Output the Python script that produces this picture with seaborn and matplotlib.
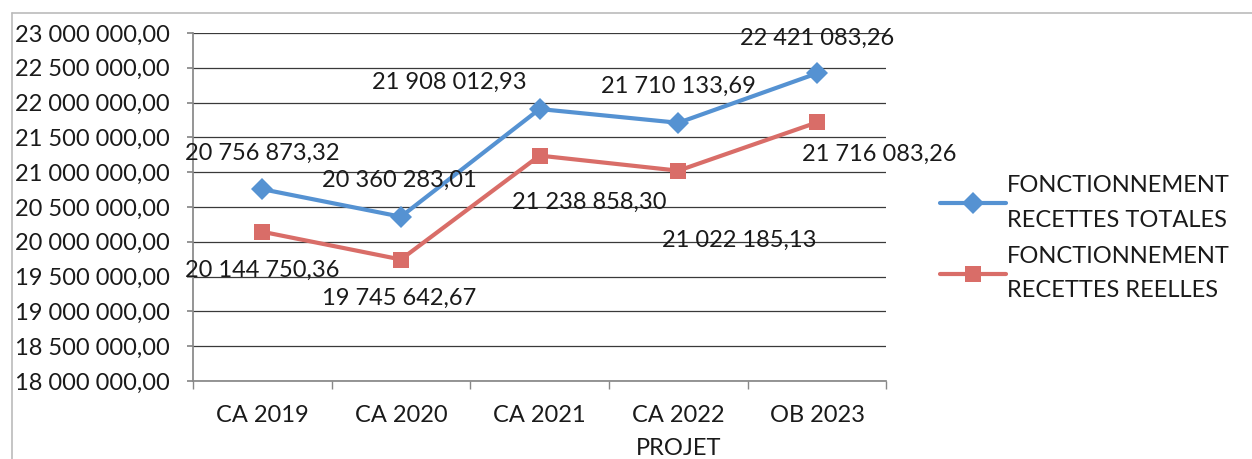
import pandas as pd
import seaborn as sns
import matplotlib.pyplot as plt
from matplotlib.ticker import FuncFormatter, FixedLocator

categories = ["CA 2019", "CA 2020", "CA 2021", "CA 2022\nPROJET", "OB 2023"]
totales = [20756873.32, 20360283.01, 21908012.93, 21710133.69, 22421083.26]
reelles = [20144750.36, 19745642.67, 21238858.30, 21022185.13, 21716083.26]
label_totales = "FONCTIONNEMENT\nRECETTES TOTALES"
label_reelles = "FONCTIONNEMENT\nRECETTES REELLES"

# offsets des étiquettes (points)
off_totales = [(0, 26), (-1, 26), (-65, 19), (0, 26), (0, 25)]
off_reelles = [(0, -28), (-1, -28), (36, -34), (44, -50), (45, -23)]


def fr(v, pos=None):
    return f"{v:,.2f}".replace(",", " ").replace(".", ",")


sns.set_theme(style="white")
plt.rcParams["font.family"] = ["Lato", "DejaVu Sans"]

df = pd.DataFrame({
    "cat": categories * 2,
    "val": totales + reelles,
    "serie": [label_totales] * 5 + [label_reelles] * 5,
})

fig = plt.figure(figsize=(12.52, 4.59), dpi=100)
ax = fig.add_axes([0.154, 0.170, 0.554, 0.758])

blue = "#5592D2"
red = "#D96D68"
txt = "#1a1a1a"
fs = 17
sns.lineplot(data=df, x="cat", y="val", hue="serie", style="serie",
             markers={label_totales: "D", label_reelles: "s"}, dashes=False,
             palette={label_totales: blue, label_reelles: red},
             markersize=11, linewidth=3, markeredgewidth=0, sort=False, ax=ax)

ax.set_xlim(-0.5, 4.5)
ax.set_ylim(18000000, 23000000)
ax.yaxis.set_major_locator(FixedLocator([18000000 + 500000 * i for i in range(11)]))
ax.yaxis.set_major_formatter(FuncFormatter(fr))
ax.grid(axis="y", color="#3a3a3a", linewidth=0.9)
ax.set_axisbelow(True)
for s in ["top", "right"]:
    ax.spines[s].set_visible(False)
ax.spines["left"].set_color("#888888")
ax.spines["bottom"].set_color("#888888")
ax.tick_params(axis="y", length=4.5, color="#888888", direction="out", left=True,
               labelsize=fs, pad=12, labelcolor=txt)
ax.tick_params(axis="x", length=0, labelsize=fs, pad=17, labelcolor=txt)
ax.set_xticks(range(5))
ax.set_xticklabels(categories)
for t in ax.get_xticklabels():
    t.set_linespacing(1.75)
ax.set_xticks([i + 0.5 for i in range(-1, 5)], minor=True)
ax.tick_params(axis="x", which="minor", length=6, color="#888888", bottom=True)
ax.set_xlabel("")
ax.set_ylabel("")

for i, v in enumerate(totales):
    ax.annotate(fr(v), (i, v), xytext=off_totales[i], textcoords="offset points",
                ha="center", va="center", fontsize=fs, color=txt)
for i, v in enumerate(reelles):
    ax.annotate(fr(v), (i, v), xytext=off_reelles[i], textcoords="offset points",
                ha="center", va="center", fontsize=fs, color=txt)

leg = ax.legend(loc="center left", bbox_to_anchor=(1.046, 0.41), frameon=False,
                fontsize=fs, handlelength=2.8, labelspacing=0.62, handletextpad=0.05)
for t in leg.get_texts():
    t.set_linespacing(1.8)
    t.set_color(txt)

# cadre du graphique
fig.add_artist(plt.Line2D([12 / 1252, 1], [1 - 13 / 459] * 2, color="#bbbbbb", lw=1.2))
fig.add_artist(plt.Line2D([12 / 1252] * 2, [0, 1 - 13 / 459], color="#bbbbbb", lw=1.2))

fig.savefig("out.png", dpi=100)
